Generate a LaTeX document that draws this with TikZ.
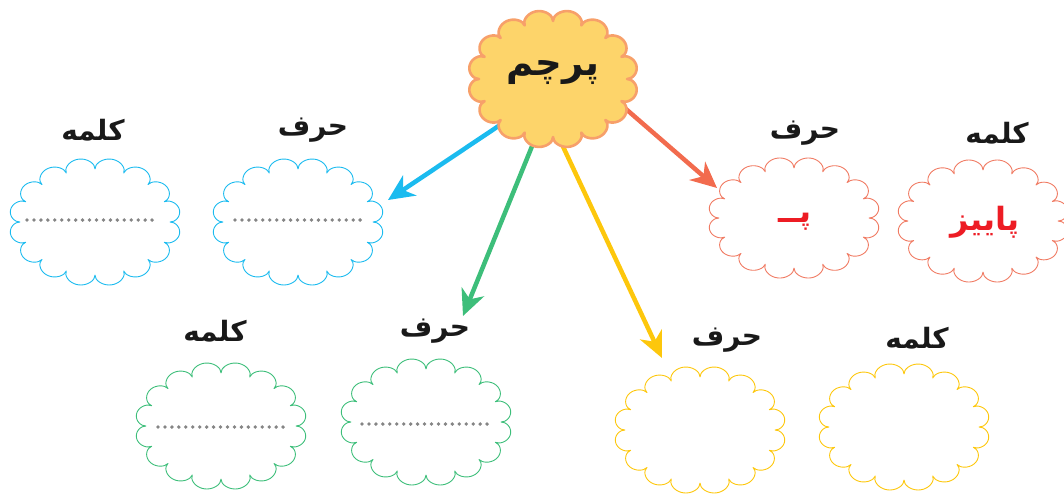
\documentclass[tikz,border=0pt]{standalone}
\usepackage{fontspec}
\newfontfamily\fa[Script=Arabic]{DejaVu Sans}
\TeXXeTstate=1
\usetikzlibrary{arrows.meta}
\definecolor{cblue}{HTML}{1BBBEF}
\definecolor{cgreen}{HTML}{3DBE7A}
\definecolor{cyellow}{HTML}{FDC70C}
\definecolor{ccoral}{HTML}{F26B4E}
\definecolor{credline}{HTML}{F07B63}
\definecolor{credtext}{HTML}{ED1C24}
\definecolor{cfill}{HTML}{FDD46A}
\definecolor{cborder}{HTML}{F7A06A}
\definecolor{cdots}{HTML}{858585}
% scalloped cloud: centre x, centre y, inner semi-axes a, b, bump height, style
\newcommand\puffcloud[6]{%
  \draw[#6] plot[domain=0:360, samples=481, variable=\t]
    ({#1+(#3+#5*sqrt(abs(sin(8*\t))+0.00001))*cos(\t)},
     {#2+(#4+#5*sqrt(abs(sin(8*\t))+0.00001))*sin(\t)}) -- cycle;}
\begin{document}
\begin{tikzpicture}[x=1pt,y=-1pt,
  outline/.style={line width=0.9pt, line join=round},
  spot/.style={inner sep=0pt, minimum size=1pt},
  lbl/.style={font=\fa\bfseries\fontsize{28}{34}\selectfont, text=black!90},
  redtxt/.style={text=credtext, font=\fa\bfseries\fontsize{32}{38}\selectfont},
  arr/.style={line width=4.5pt, -{Stealth[length=26pt,width=24pt,inset=8pt]}},
  dotline/.style={cdots, line width=3.8pt, line cap=round, dash pattern=on 0pt off 6.95pt}]
\useasboundingbox (0,0) rectangle (1064,493);
% arrow ends
\coordinate (sb) at (506,121);
\coordinate (sg) at (537,134);
\coordinate (sy) at (559,138);
\coordinate (sr) at (619,103);
\coordinate (tb) at (388,200);
\coordinate (tg) at (463,316);
\coordinate (ty) at (662,358);
\coordinate (tr) at (717,188);
\draw[arr, cblue] (sb) -- (tb);
\draw[arr, cgreen] (sg) -- (tg);
\draw[arr, cyellow] (sy) -- (ty);
\draw[arr, ccoral] (sr) -- (tr);
% centre cloud
\puffcloud{553}{79}{74}{58}{11}{draw=cborder, fill=cfill, line width=2.6pt, line join=round}
\node[spot, font=\fa\bfseries\fontsize{37}{44}\selectfont, text=black!90] (C) at (553,73) {\beginR پرچم\endR};
% blue
\puffcloud{95}{222}{75}{53}{11}{outline, draw=cblue}
\puffcloud{298}{222}{75}{53}{11}{outline, draw=cblue}
\node[spot] (b1) at (95,222) {};
\node[spot] (b2) at (298,222) {};
\draw[dotline] (27,220) -- (153,220);
\draw[dotline] (235,220) -- (362,220);
\node[lbl] (lb1) at (93,130) {\beginR کلمه\endR};
\node[lbl] (lb2) at (313,130) {\beginR حرف\endR};
% red
\puffcloud{794}{218}{75}{50}{11}{outline, draw=credline}
\puffcloud{983}{221}{75}{51}{11}{outline, draw=credline}
\node[spot, redtxt] (r1) at (795,222) {\beginR پــ\endR};
\node[spot, redtxt] (r2) at (985,222) {\beginR پاییز\endR};
\node[lbl] (lr1) at (805,133) {\beginR حرف\endR};
\node[lbl] (lr2) at (997,133) {\beginR کلمه\endR};
% green
\puffcloud{221}{426}{75}{53}{11}{outline, draw=cgreen}
\puffcloud{426}{422}{75}{53}{11}{outline, draw=cgreen}
\node[spot] (g1) at (221,426) {};
\node[spot] (g2) at (426,422) {};
\draw[dotline] (158,427) -- (287,427);
\draw[dotline] (362,424) -- (491,424);
\node[lbl] (lg1) at (215,331) {\beginR کلمه\endR};
\node[lbl] (lg2) at (435,331) {\beginR حرف\endR};
% yellow
\puffcloud{700}{430}{75}{53}{11}{outline, draw=cyellow}
\puffcloud{904}{427}{75}{53}{11}{outline, draw=cyellow}
\node[spot] (y1) at (700,430) {};
\node[spot] (y2) at (904,427) {};
\node[lbl] (ly1) at (727,340) {\beginR حرف\endR};
\node[lbl] (ly2) at (917,338) {\beginR کلمه\endR};
\end{tikzpicture}
\end{document}
